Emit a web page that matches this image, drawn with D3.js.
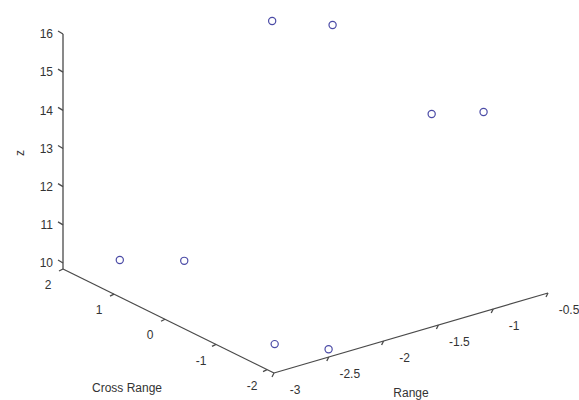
<!DOCTYPE html>
<html>
<head>
<meta charset="utf-8">
<script src="https://cdn.jsdelivr.net/npm/d3@7"></script>
<style>
  body { margin: 0; background: #fff; }
  svg { display: block; }
</style>
</head>
<body>
<div id="chart"></div>
<script>
// data (range, cross range, z)
const rangeVals = [-2.64, -2.28, -1.65, -1.35, -0.93, -0.61, -2.73, -2.48];
const crossVals = [1.66, 1.17, 0.80, 0.26, -0.78, -1.11, -1.57, -2.09];
const zVals = [10, 10, 16, 16, 14, 14, 10, 10];

const rangeTicks = [-3, -2.5, -2, -1.5, -1, -0.5];
const crossTicks = [2, 1, 0, -1, -2];
const zTicks = [10, 11, 12, 13, 14, 15, 16];

const width = 579;
const height = 400;

// axis limits -> fraction along each axis
const sr = d3.scaleLinear().domain([-3, -0.5]).range([0, 1]);
const sc = d3.scaleLinear().domain([-2.137, 2]).range([0, 1]);
const sz = d3.scaleLinear().domain([9.843, 16]).range([0, 1]);

// screen basis of the 3d view
const corner = [274, 373];
const rVec = [274, -80];
const cVec = [-211, -104];
const zVec = [0, -235];

function proj(r, c, z) {
  const a = sr(r), b = sc(c), h = sz(z);
  return [
    corner[0] + a * rVec[0] + b * cVec[0] + h * zVec[0],
    corner[1] + a * rVec[1] + b * cVec[1] + h * zVec[1]
  ];
}

const rMin = -3, rMax = -0.5, cMin = -2.137, cMax = 2, zMin = 9.843, zMax = 16;

const svg = d3.select('#chart')
  .append('svg')
  .attr('width', width)
  .attr('height', height)
  .style('font-family', 'Liberation Sans, Arial, sans-serif');

const axisColor = '#4a4a4a';
const line = d3.line();

const axes = svg.append('g')
  .attr('fill', 'none')
  .attr('stroke', axisColor)
  .attr('stroke-width', 1.3);

// range axis
axes.append('path').attr('d', line([proj(rMin, cMin, zMin), proj(rMax, cMin, zMin)]));
// cross range axis
axes.append('path').attr('d', line([proj(rMin, cMin, zMin), proj(rMin, cMax, zMin)]));
// z axis
axes.append('path').attr('d', line([proj(rMin, cMax, zMin), proj(rMin, cMax, zMax)]));

// ticks
axes.selectAll('.rt').data(rangeTicks).join('path')
  .attr('d', (d) => {
    const p = proj(d, cMin, zMin);
    return line([p, [p[0] - 2, p[1] + 4]]);
  });
axes.selectAll('.ct').data(crossTicks).join('path')
  .attr('d', (d) => {
    const p = proj(rMin, d, zMin);
    return line([p, [p[0] - 4, p[1] + 2]]);
  });
axes.selectAll('.zt').data(zTicks).join('path')
  .attr('d', (d) => {
    const p = proj(rMin, cMax, d);
    return line([p, [p[0] - 5, p[1] - 3]]);
  });

const labels = svg.append('g')
  .attr('fill', '#333')
  .style('font-size', '12px');

labels.selectAll('.rl').data(rangeTicks).join('text')
  .attr('x', (d) => proj(d, cMin, zMin)[0] + 21)
  .attr('y', (d) => proj(d, cMin, zMin)[1] + 17)
  .attr('dy', '0.35em')
  .attr('text-anchor', 'middle')
  .text((d) => d);

labels.selectAll('.cl').data(crossTicks).join('text')
  .attr('x', (d) => proj(rMin, d, zMin)[0] - 15)
  .attr('y', (d) => proj(rMin, d, zMin)[1] + 16)
  .attr('dy', '0.35em')
  .attr('text-anchor', 'middle')
  .text((d) => d);

labels.selectAll('.zl').data(zTicks).join('text')
  .attr('x', (d) => proj(rMin, cMax, d)[0] - 10)
  .attr('y', (d) => proj(rMin, cMax, d)[1])
  .attr('dy', '0.35em')
  .attr('text-anchor', 'end')
  .text((d) => d);

labels.append('text')
  .attr('x', 127).attr('y', 388)
  .attr('dy', '0.35em')
  .attr('text-anchor', 'middle')
  .text('Cross Range');

labels.append('text')
  .attr('x', 411).attr('y', 393)
  .attr('dy', '0.35em')
  .attr('text-anchor', 'middle')
  .text('Range');

labels.append('text')
  .attr('transform', 'translate(20,153) rotate(-90)')
  .attr('dy', '0.35em')
  .attr('text-anchor', 'middle')
  .text('z');

// points
const points = rangeVals.map((r, i) => [r, crossVals[i], zVals[i]]);
svg.append('g')
  .selectAll('circle')
  .data(points)
  .join('circle')
  .attr('cx', (d) => proj(d[0], d[1], d[2])[0])
  .attr('cy', (d) => proj(d[0], d[1], d[2])[1])
  .attr('r', 3.6)
  .attr('fill', 'none')
  .attr('stroke', '#4b4ba6')
  .attr('stroke-width', 1.2);
</script>
</body>
</html>
